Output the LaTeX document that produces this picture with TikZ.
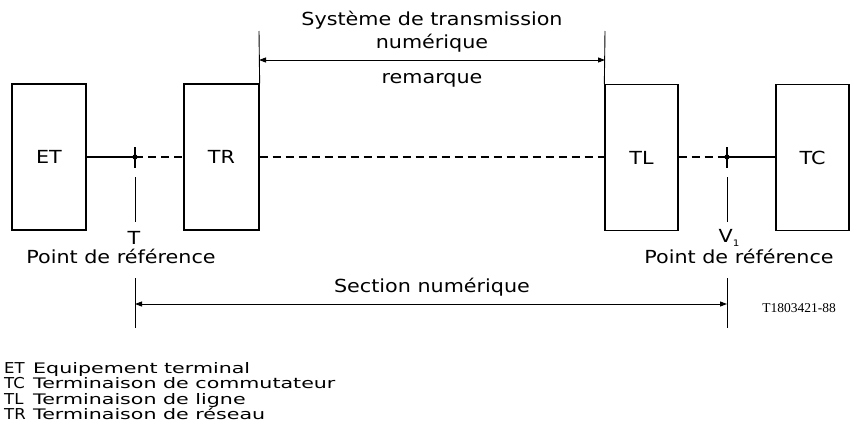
\documentclass[tikz,border=0pt]{standalone}
\usepackage{fontspec}
\setmainfont{DejaVu Sans}[FakeStretch=1.15]
\newfontfamily\legfont{DejaVu Sans}[FakeStretch=1.42]
\newfontfamily\abbfont{DejaVu Sans}[FakeStretch=1.1]
\newfontfamily\idfont{Liberation Serif}
\usetikzlibrary{arrows.meta}
\newcommand\figlbl{\fontsize{18}{21}\selectfont}
\newcommand\figleg{\legfont\fontsize{14.5}{17}\selectfont}
\newcommand\figabb{\abbfont\fontsize{15}{17}\selectfont}
\begin{document}
\begin{tikzpicture}[x=1pt,y=-1pt,
  box/.style={draw, line width=1.3pt, minimum height=146pt, inner sep=0pt, font=\figlbl},
  solidline/.style={line width=1.1pt},
  dashline/.style={line width=1.6pt, dash pattern=on 8pt off 5pt},
  thin/.style={line width=0.9pt},
  dim/.style={line width=0.9pt, {Triangle[length=7pt,width=5pt]}-{Triangle[length=7pt,width=5pt]}},
  lbl/.style={inner sep=0pt, font=\figlbl},
  leg/.style={inner sep=0pt, anchor=base west, font=\figleg},
  abb/.style={inner sep=0pt, anchor=base west, font=\figabb}]
\useasboundingbox (0,0) rectangle (852,439);

% boxes
\node[box, minimum width=74pt] (ET) at (49,157) {ET};
\node[box, minimum width=75pt] (TR) at (221.5,157) {TR};
\node[box, minimum width=73pt] (TL) at (641.5,157.5) {TL};
\node[box, minimum width=73pt] (TC) at (812.5,157.5) {TC};

% reference points
\coordinate (T) at (135,157);
\coordinate (V) at (727,157);

\draw[solidline] (ET.east |- T) -- (T);
\draw[dashline] (T) -- (TR.west |- T);
\draw[dashline] (TR.east |- T) -- (TL.west |- T);
\draw[dashline] (TL.east |- V) -- (V);
\draw[solidline] (V) -- (TC.west |- V);

\fill (T) circle (2.6pt);
\fill (V) circle (2.6pt);
\coordinate (Tt) at (135,147); \coordinate (Tb) at (135,168);
\coordinate (Vt) at (727,147); \coordinate (Vb) at (727,168);
\draw[line width=1.4pt] (Tt) -- (Tb);
\draw[line width=1.4pt] (Vt) -- (Vb);

\coordinate (T1) at (135,177); \coordinate (T2) at (135,222);
\coordinate (V1a) at (727,177); \coordinate (V1b) at (727,222);
\draw[thin] (T1) -- (T2);
\draw[thin] (V1a) -- (V1b);

\node[lbl] (Tlab) at (134,238) {T};
\node[lbl] (Vlab) at (729,238) {V\raisebox{-0.35ex}{\fontsize{9}{10}\selectfont 1}};
\node[lbl] (Tref) at (121,256) {Point de référence};
\node[lbl] (Vref) at (739,256) {Point de référence};

% digital section
\coordinate (T3) at (135,278); \coordinate (T4) at (135,328);
\coordinate (V3) at (727,278); \coordinate (V4) at (727,328);
\draw[thin] (T3) -- (T4);
\draw[thin] (V3) -- (V4);
\coordinate (SA) at (135,304); \coordinate (SB) at (727,304);
\draw[dim] (SA) -- (SB);
\node[lbl] (sec) at (432,287) {Section numérique};

% transmission system
\coordinate (RL) at (259,31);
\coordinate (RR) at (605,31);
\draw[thin] (TR.north east) -- (RL);
\draw[thin] (TL.north west) -- (RR);
\coordinate (AL) at (259,60); \coordinate (AR) at (605,60);
\draw[dim] (AL) -- (AR);
\node[lbl] (sys1) at (432,20) {Système de transmission};
\node[lbl] (sys2) at (432,43) {numérique};
\node[lbl] (rem) at (432,80) {remarque};

\node[inner sep=0pt, font=\idfont\fontsize{13.5}{15}\selectfont] (id) at (799,308) {T1803421-88};

% legend
\node[abb] (l1a) at (4,373) {ET};
\node[leg] (l1b) at (33,373) {Equipement terminal};
\node[abb] (l2a) at (4,388.5) {TC};
\node[leg] (l2b) at (33,388.5) {Terminaison de commutateur};
\node[abb] (l3a) at (4,404) {TL};
\node[leg] (l3b) at (33,404) {Terminaison de ligne};
\node[abb] (l4a) at (4,419.5) {TR};
\node[leg] (l4b) at (33,419.5) {Terminaison de réseau};
\end{tikzpicture}
\end{document}
